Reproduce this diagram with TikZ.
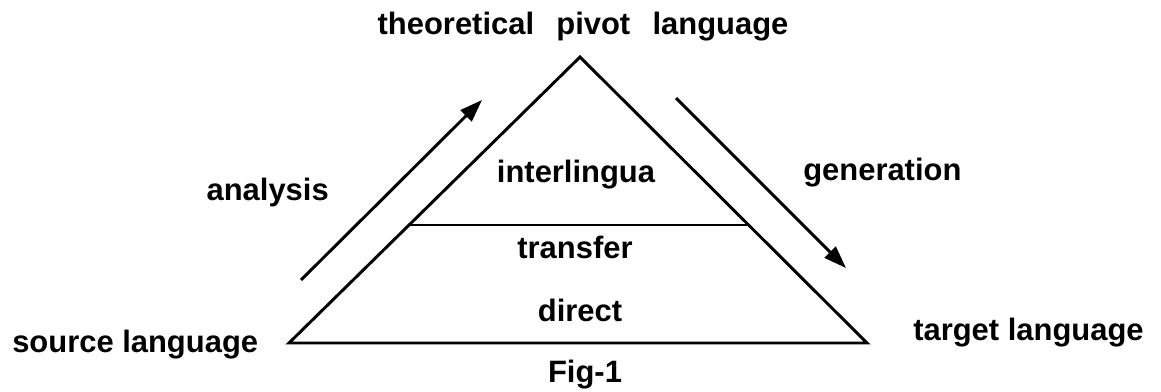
\documentclass[tikz,border=0pt]{standalone}
\usepackage{fontspec}
\setmainfont{Liberation Sans}
\usetikzlibrary{positioning, arrows.meta, calc}

\begin{document}
\begin{tikzpicture}[
    x=0.025cm, y=-0.025cm,
    lbl/.style={font=\fontsize{22}{26}\selectfont\bfseries, inner sep=0pt},
    edge/.style={line width=2.1pt},
    arr/.style={edge, -{Triangle[length=16pt, width=11pt]}},
]
\useasboundingbox (0,0) rectangle (1161,392);

% Triangle corners
\coordinate (apex) at (580,57);
\coordinate (srccorner) at (289,343);
\coordinate (tgtcorner) at (867,343);

% Transfer level
\coordinate (trleft) at ($(srccorner)!0.4126!(apex)$);
\coordinate (trright) at ($(tgtcorner)!0.4126!(apex)$);

% Labels
\node[lbl, anchor=base] (pivot) at (583,35) {theoretical\hspace{0.72em}pivot\hspace{0.72em}language};
\node[lbl, anchor=base west] (source) at (12,352) {source language};
\node[lbl, anchor=base west] (target) at (913,340) {target language};
\node[lbl, anchor=base east] (analysis) at (329,201) {analysis};
\node[lbl, anchor=base west] (generation) at (803,181) {generation};
\node[lbl, anchor=base] (interlingua) at (576,183) {interlingua};
\node[lbl, anchor=base] (transfer) at (575,259) {transfer};
\node[lbl, anchor=base] (direct) at (580,322) {direct};
\node[lbl, anchor=base] (fig) at (585,382) {Fig-1};

% Arrow ends
\coordinate (anatail) at (301,280);
\coordinate (anatip) at (482,100);
\coordinate (gentail) at (676,98);
\coordinate (gentip) at (846,268);

% Triangle
\draw[edge] (srccorner) -- (apex) -- (tgtcorner) -- cycle;
\draw[edge] (trleft) -- (trright);

% Analysis / generation
\draw[arr] (anatail) -- (anatip);
\draw[arr] (gentail) -- (gentip);

\end{tikzpicture}
\end{document}
